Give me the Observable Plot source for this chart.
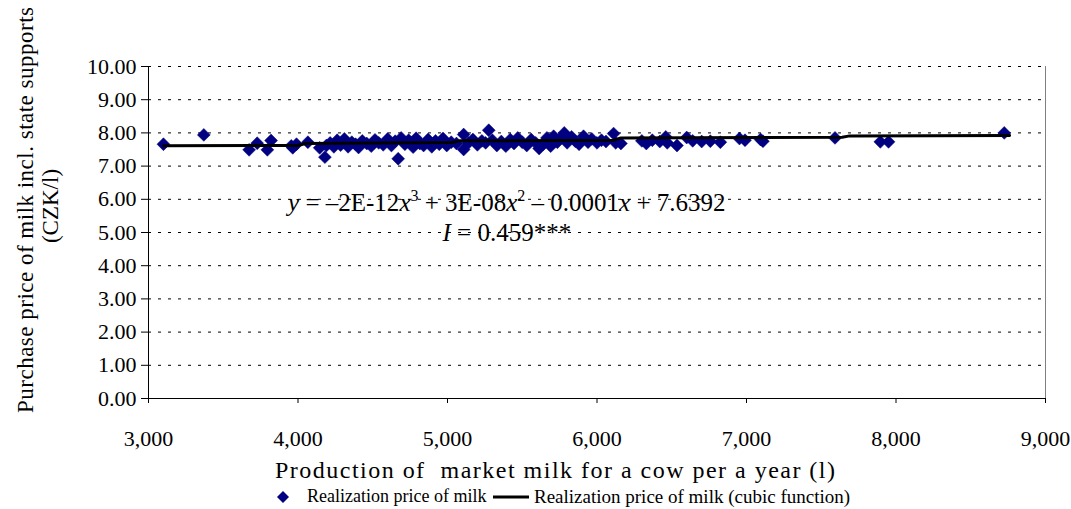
<!DOCTYPE html>
<html><head><meta charset="utf-8">
<script src="https://cdn.jsdelivr.net/npm/d3@7"></script>
<script src="https://cdn.jsdelivr.net/npm/@observablehq/plot@0.6"></script>
<style>
body{margin:0;background:#fff;font-family:"Liberation Serif","Times New Roman",serif;}
#chart svg{display:block;}
#legend{position:relative;height:25px;width:1071px;font-size:18px;color:#000;}
#legend .it{position:absolute;top:0;height:25px;display:flex;align-items:center;white-space:nowrap;}
</style></head><body>
<div id="chart"></div>
<div id="legend"></div>
<script>
const milkProduction = [3100,3370,3673,3727,3795,3820,3955,3965,3990,4066,4145,4180,4190,4215,4240,4262,4285,4310,4335,4360,4385,4405,4430,4460,4490,4515,4540,4570,4600,4625,4650,4670,4690,4715,4740,4770,4790,4815,4840,4870,4895,4920,4945,4970,4995,5025,5060,5108,5108,5140,5170,5200,5230,5255,5276,5300,5330,5360,5390,5420,5445,5470,5500,5530,5560,5590,5613,5640,5665,5690,5710,5735,5760,5781,5800,5830,5855,5880,5910,5940,5965,6000,6030,6060,6111,6125,6160,6300,6330,6370,6420,6460,6470,6535,6600,6640,6700,6758,6825,6953,6990,7094,7110,7592,7895,7950,8724];
const milkPrice = [7.66,7.94,7.49,7.69,7.49,7.77,7.61,7.55,7.66,7.72,7.55,7.27,7.62,7.70,7.58,7.78,7.63,7.82,7.58,7.72,7.66,7.56,7.76,7.68,7.60,7.79,7.70,7.64,7.82,7.62,7.75,7.22,7.85,7.66,7.78,7.57,7.84,7.68,7.62,7.80,7.58,7.76,7.66,7.83,7.62,7.72,7.68,7.95,7.50,7.70,7.80,7.64,7.76,7.70,8.08,7.78,7.62,7.74,7.60,7.80,7.68,7.85,7.72,7.62,7.80,7.70,7.53,7.66,7.85,7.60,7.90,7.72,7.85,8.00,7.70,7.88,7.75,7.66,7.90,7.72,7.82,7.70,7.78,7.74,7.98,7.70,7.68,7.76,7.68,7.78,7.74,7.88,7.70,7.62,7.86,7.76,7.74,7.75,7.72,7.83,7.78,7.80,7.75,7.85,7.73,7.73,8.00];
const fitProduction = [3100,4000,4050,5030,5080,6110,6160,7640,7690,8760];
const fitPrice = [7.61,7.62,7.68,7.71,7.76,7.78,7.85,7.87,7.91,7.92];
const xTicks = [3000,4000,5000,6000,7000,8000,9000];
const yTicks = [0,1,2,3,4,5,6,7,8,9,10];
const yAxisTitle = ["Purchase price of milk incl. state supports","(CZK/l)"];
const xAxisTitle = "Production of  market milk for a cow per a year (l)";
const seriesNames = ["Realization price of milk","Realization price of milk (cubic function)"];

const points = milkProduction.map((x,i)=>({x, y: milkPrice[i]}));
const fit = fitProduction.map((x,i)=>({x, y: fitPrice[i]}));
const SERIF = "Liberation Serif";

const W = 1071, H = 484;
const chart = Plot.plot({
  width: W, height: H,
  marginLeft: 148, marginRight: 26, marginTop: 66, marginBottom: H-398,
  style: {fontFamily: SERIF, fontSize: "22px", color: "#000", background: "#fff"},
  x: {domain: [3000, 9000]},
  y: {domain: [0, 10]},
  marks: [
    Plot.ruleY(yTicks.filter(d => d > 0), {stroke: "#000", strokeDasharray: "3,7", strokeWidth: 1}),
    Plot.ruleX([9000], {stroke: "#808080", strokeWidth: 1}),
    Plot.ruleX([3000], {stroke: "#000", strokeWidth: 1}),
    Plot.ruleY([0], {stroke: "#000", strokeWidth: 1}),
    Plot.axisY({ticks: yTicks, tickFormat: d3.format(".2f"), tickSize: 7, tickPadding: 5, label: null, fontSize: 22}),
    Plot.axisX({ticks: xTicks, tickFormat: d3.format(","), tickSize: 5, tickPadding: 27, label: null, fontSize: 22}),
    Plot.dot(points, {x: "x", y: "y", symbol: "diamond2", r: 5.8, fill: "#000080", stroke: "#000080", strokeWidth: 0.5}),
    Plot.line(fit, {x: "x", y: "y", stroke: "#000", strokeWidth: 3})
  ]
});
document.getElementById("chart").appendChild(chart);

const svg = d3.select(chart);
const xs = chart.scale("x"), ys = chart.scale("y");
// Y axis title (two lines, rotated)
const yt = svg.append("text").attr("transform", "translate(0,210) rotate(-90)")
  .attr("text-anchor", "middle").attr("font-size", 23).attr("fill", "#000").attr("font-family", SERIF);
yt.append("tspan").attr("x", 0).attr("y", 33).attr("textLength", 406).attr("lengthAdjust", "spacing").text(yAxisTitle[0]);
yt.append("tspan").attr("x", 4).attr("y", 58).text(yAxisTitle[1]);
// X axis title
svg.append("text").attr("x", 555).attr("y", ys.apply(0) + 80)
  .attr("text-anchor", "middle").attr("font-size", 24).attr("fill", "#000").attr("font-family", SERIF)
  .attr("textLength", 560).attr("lengthAdjust", "spacing")
  .style("white-space", "pre").text(xAxisTitle);
// Equation annotation
const ex = xs.apply(5400);
const eq = svg.append("text").attr("x", ex).attr("y", ys.apply(5.62)).attr("text-anchor", "middle")
  .attr("font-size", 25).attr("fill", "#000").attr("font-family", SERIF).style("white-space", "pre");
const parts = [["y", true], [" = \u20132E-12", false], ["x", true], ["3", false, true], [" + 3E-08", false], ["x", true], ["2", false, true], [" \u2013 0.0001", false], ["x", true], [" + 7.6392", false]];
parts.forEach(([t, it, sup], i) => {
  const s = eq.append("tspan").text(t);
  if (it) s.attr("font-style", "italic");
  const prevSup = i > 0 && parts[i-1][2];
  if (sup) s.attr("font-size", 16).attr("dy", -10);
  else if (prevSup) s.attr("dy", 10);
});
const eq2 = svg.append("text").attr("x", ex).attr("y", ys.apply(4.72)).attr("text-anchor", "middle")
  .attr("font-size", 25).attr("fill", "#000").attr("font-family", SERIF).style("white-space", "pre");
eq2.append("tspan").attr("font-style", "italic").text("I");
eq2.append("tspan").text(" = 0.459***");

// Legend
const lg = d3.select("#legend");
const i1 = lg.append("div").attr("class", "it").style("left", "276px");
const s1 = i1.append("svg").attr("width", 14).attr("height", 14);
s1.append("path").attr("d", "M7,1L13,7L7,13L1,7Z").attr("fill", "#000080");
i1.append("span").style("margin-left", "17px").text(seriesNames[0]);
const i2 = lg.append("div").attr("class", "it").style("left", "492px");
const s2 = i2.append("svg").attr("width", 40).attr("height", 14);
s2.append("line").attr("x1", 1).attr("x2", 37).attr("y1", 7).attr("y2", 7).attr("stroke", "#000").attr("stroke-width", 3);
i2.append("span").style("margin-left", "2px").style("font-size", "19px").text(seriesNames[1]);
</script>
</body></html>
